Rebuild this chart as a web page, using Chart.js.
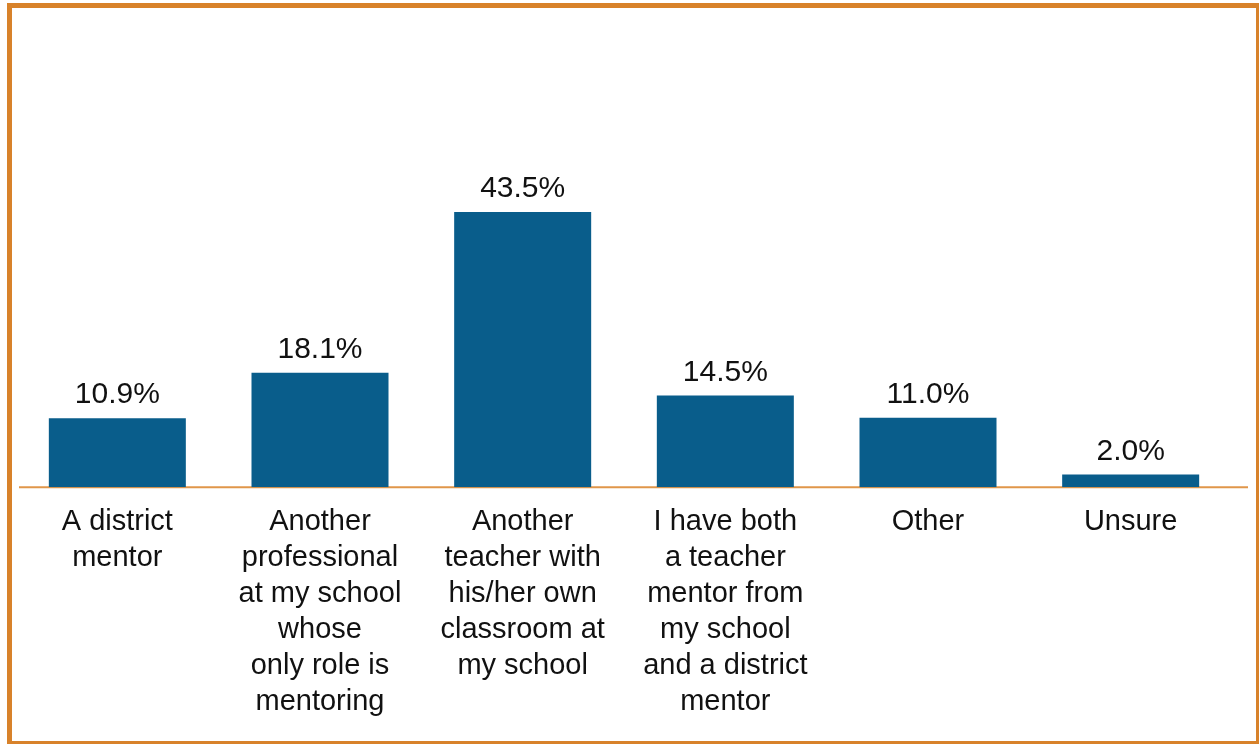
<!DOCTYPE html>
<html>
<head>
<meta charset="utf-8">
<script src="https://cdn.jsdelivr.net/npm/chart.js@4"></script>
<style>
  html, body { margin: 0; padding: 0; background: #fff; }
  #wrap { position: relative; width: 1259px; height: 744px; }
  #frame {
    position: absolute; left: 7px; top: 3px; width: 1252px; height: 741px;
    box-sizing: border-box; border-style: solid; border-color: #d8822a;
    border-width: 5px 3px 3px 5px; pointer-events: none;
  }
</style>
</head>
<body>
<div id="wrap">
  <canvas id="barChart" width="1259" height="744"></canvas>
  <div id="frame"></div>
</div>
<script>
// categories (multi-line labels) and values in percent
const categories = [
  ['A district', 'mentor'],
  ['Another', 'professional', 'at my school', 'whose', 'only role is', 'mentoring'],
  ['Another', 'teacher with', 'his/her own', 'classroom at', 'my school'],
  ['I have both', 'a teacher', 'mentor from', 'my school', 'and a district', 'mentor'],
  ['Other'],
  ['Unsure']
];
const values = [10.9, 18.1, 43.5, 14.5, 11.0, 2.0];

const barColor = '#095d8b';
const lineColor = '#e0964a';
const fontFamily = 'Arial, "Liberation Sans", Helvetica, sans-serif';

// orange baseline, a bit wider than the plot area
const baseline = {
  id: 'baseline',
  beforeDatasetsDraw(chart) {
    const { ctx, chartArea, scales } = chart;
    const y = scales.y.getPixelForValue(0);
    ctx.save();
    ctx.strokeStyle = lineColor;
    ctx.lineWidth = 2;
    ctx.beginPath();
    ctx.moveTo(chartArea.left + 3, y);
    ctx.lineTo(chartArea.right + 16, y);
    ctx.stroke();
    ctx.restore();
  }
};

// value labels above each bar
const valueLabels = {
  id: 'valueLabels',
  afterDatasetsDraw(chart) {
    const { ctx } = chart;
    const meta = chart.getDatasetMeta(0);
    ctx.save();
    ctx.font = '30px ' + fontFamily;
    ctx.fillStyle = '#111';
    ctx.textAlign = 'center';
    ctx.textBaseline = 'alphabetic';
    meta.data.forEach((bar, i) => {
      ctx.fillText(values[i].toFixed(1) + '%', bar.x, bar.y - 15);
    });
    ctx.restore();
  }
};

const ctx = document.getElementById('barChart').getContext('2d');
new Chart(ctx, {
  type: 'bar',
  data: {
    labels: categories,
    datasets: [{
      data: values,
      backgroundColor: barColor,
      borderWidth: 0,
      categoryPercentage: 1,
      barPercentage: 0.676
    }]
  },
  options: {
    responsive: false,
    animation: false,
    layout: { padding: { left: 16, right: 27, top: 171, bottom: 7 } },
    scales: {
      y: { display: false, min: 0, max: 50 },
      x: {
        grid: { display: false, drawTicks: false },
        border: { display: false },
        ticks: {
          autoSkip: false,
          maxRotation: 0,
          minRotation: 0,
          padding: 17,
          color: '#111',
          font: { family: fontFamily, size: 29, lineHeight: 1.24 }
        }
      }
    },
    plugins: {
      legend: { display: false },
      tooltip: { enabled: false }
    }
  },
  plugins: [baseline, valueLabels]
});
</script>
</body>
</html>
